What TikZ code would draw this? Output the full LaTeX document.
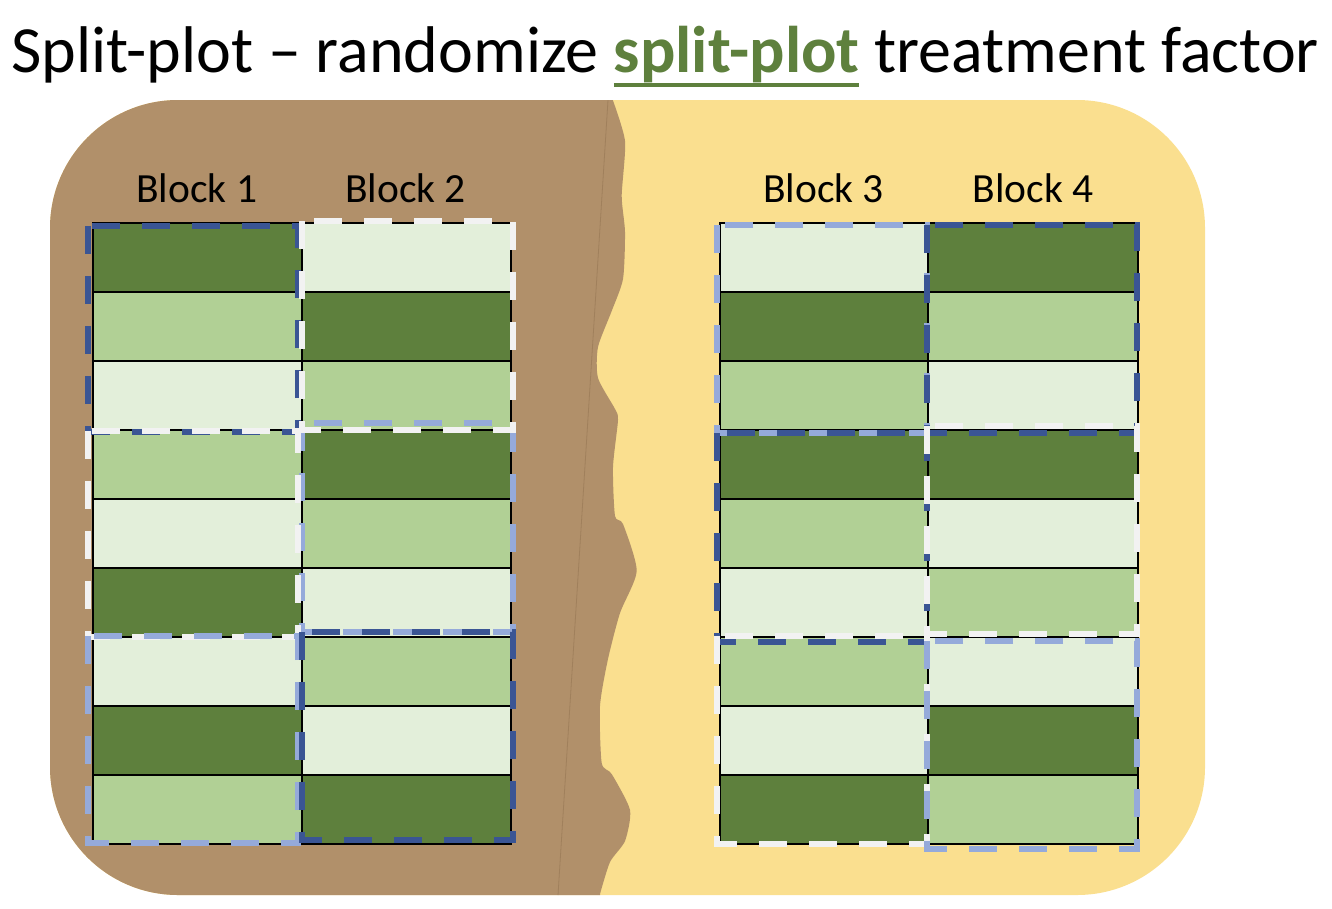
\documentclass[tikz,border=0pt]{standalone}
\usepackage{fontspec}
\setmainfont{Carlito}
\definecolor{soilc}{RGB}{177,144,106}
\definecolor{soilline}{RGB}{160,128,92}
\definecolor{sandc}{RGB}{250,223,143}
\definecolor{gD}{RGB}{94,128,61}
\definecolor{gM}{RGB}{177,208,149}
\definecolor{gL}{RGB}{227,239,218}
\definecolor{blueD}{RGB}{58,85,148}
\definecolor{blueL}{RGB}{149,170,218}
\definecolor{whiteD}{RGB}{242,242,242}
\newsavebox\ulbox
\newcommand\thickul[1]{\sbox\ulbox{#1}\rlap{\rule[-15pt]{\wd\ulbox}{4.5pt}}\usebox\ulbox}
\newcommand\blockcol[3]{%
  \foreach \c [count=\i from 0] in {#3} {%
    \filldraw[cellbox, fill=g\c] (#1,223+69*\i) rectangle ++(#2,69);}%
}
\begin{document}
\begin{tikzpicture}[x=1pt,y=-1pt,
  cellbox/.style={draw=black, line width=2pt},
  wpdash/.style={line width=6.5pt, dash pattern=on 28pt off 22pt},
  lbl/.style={font=\fontsize{41.5}{48}\selectfont, anchor=base, inner sep=0pt},
  ttl/.style={font=\fontsize{66}{74}\selectfont, anchor=base, inner sep=0pt}]
\useasboundingbox (0,0) rectangle (1332,908);
% field background
\fill[sandc, rounded corners=128pt] (50,100) rectangle (1205,895);
\begin{scope}
  \clip[rounded corners=128pt] (50,100) rectangle (1205,895);
  \fill[soilc] (0,90) -- (611.7,90) -- plot[smooth, tension=0.4] coordinates {
    (611.7,97) (625,141) (621.7,196) (625,232) (623,279) (611.7,311) (598,347)
    (598,378) (615,409) (618,420) (613,467) (615,516) (623,524) (636.7,571)
    (620,613) (608,659) (600,706) (601.7,763) (611.7,774) (630,810) (625,841)
    (610,862) (600,894)} -- (600,910) -- (0,910) -- cycle;
  \draw[soilline, line width=0.8pt] (608,100) -- (558,895);
\end{scope}
% title
\node[ttl] (title) at (665,72) {Split-plot – randomize \textcolor{gD}{\thickul{\textbf{split-plot}}} treatment factor};
% block labels
\node[lbl] (lb1) at (196.7,202.7) {Block 1};
\node[lbl] (lb2) at (405.5,202.7) {Block 2};
\node[lbl] (lb3) at (823.5,202.7) {Block 3};
\node[lbl] (lb4) at (1033,202.7) {Block 4};
% split-plot cells
\blockcol{92.7}{209}{D,M,L,M,L,D,L,D,M}
\blockcol{301.7}{209.3}{L,D,M,D,M,L,M,L,D}
\blockcol{720}{208}{L,D,M,D,M,L,M,L,D}
\blockcol{928}{210}{D,M,L,D,L,M,L,D,M}
% whole-plot outlines
\draw[wpdash, blueD]  (88,226) rectangle (298,432);
\draw[wpdash, blueL]  (302,423) rectangle (513,632);
\draw[wpdash, whiteD] (88,431) rectangle (298,637);
\draw[wpdash, blueL]  (88,636) rectangle (298,843);
\draw[wpdash, whiteD] (302,221) rectangle (513,430);
\draw[wpdash, blueD]  (302,632) rectangle (513,840);
\draw[wpdash, blueL]  (717,225) rectangle (927,433);
\draw[wpdash, blueD]  (717,433) rectangle (927,642);
\draw[wpdash, blueD]  (927,225) rectangle (1137,433);
\draw[wpdash, whiteD] (927,426) rectangle (1137,634);
\draw[wpdash, whiteD] (717,636) rectangle (927,844);
\draw[wpdash, blueL]  (927,641) rectangle (1137,849);
\end{tikzpicture}
\end{document}
